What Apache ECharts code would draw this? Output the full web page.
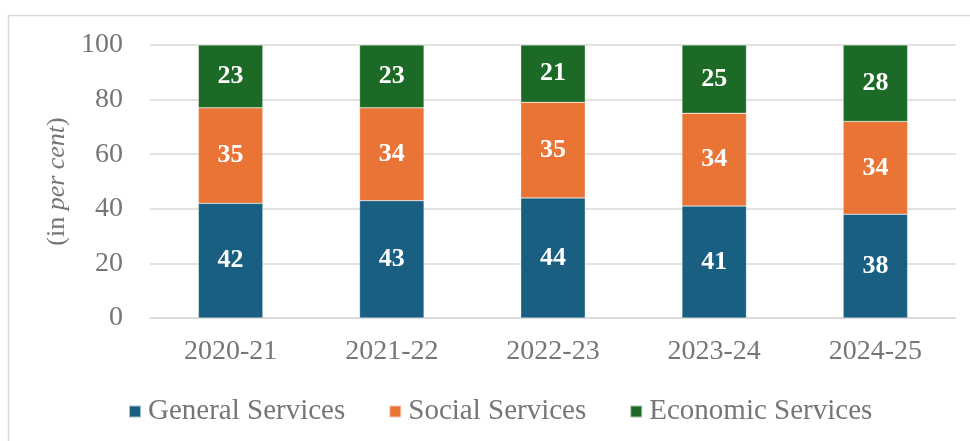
<!DOCTYPE html>
<html>
<head>
<meta charset="utf-8">
<script src="https://cdn.jsdelivr.net/npm/echarts@6/dist/echarts.min.js"></script>
<style>
  html, body { margin: 0; padding: 0; background: #fff; }
  #chart { width: 970px; height: 441px; }
</style>
</head>
<body>
<div id="chart"></div>
<script>
// Share of expenditure by service group, per year (in per cent)
const years = ['2020-21', '2021-22', '2022-23', '2023-24', '2024-25'];
const generalServices = [42, 43, 44, 41, 38];
const socialServices = [35, 34, 35, 34, 34];
const economicServices = [23, 23, 21, 25, 28];
const yTicks = [0, 20, 40, 60, 80, 100];

const FONT = '"Liberation Serif", "Times New Roman", serif';
const GREY = '#767676';

const chart = echarts.init(document.getElementById('chart'), null, { renderer: 'canvas' });

function barSeries(name, values, color) {
  return {
    name: name,
    type: 'bar',
    stack: 'total',
    data: values,
    barWidth: '40%',
    itemStyle: { color: color, borderColor: 'rgba(255,255,255,0.6)', borderWidth: 0.5 },
    label: {
      show: true,
      position: 'inside',
      color: '#fff',
      fontFamily: FONT,
      fontWeight: 'bold',
      fontSize: 26
    }
  };
}

chart.setOption({
  animation: false,
  backgroundColor: '#fff',
  graphic: [{
    type: 'rect',
    shape: { x: 8.5, y: 15.5, width: 980, height: 460 },
    style: { fill: 'none', stroke: '#d9d9d9', lineWidth: 1.5 },
    silent: true,
    z: -10
  }],
  grid: { left: 150, right: 14, top: 45, bottom: 123 },
  legend: {
    left: 123,
    top: 392,
    itemWidth: 12,
    itemHeight: 12,
    itemGap: 43,
    icon: 'rect',
    textStyle: { fontFamily: FONT, fontSize: 29, color: GREY, padding: [0, 0, 0, 2] },
    data: ['General Services', 'Social Services', 'Economic Services']
  },
  xAxis: {
    type: 'category',
    data: years,
    axisTick: { show: false },
    axisLine: { show: true, lineStyle: { color: '#d9d9d9', width: 1.5 } },
    axisLabel: { fontFamily: FONT, fontSize: 28, color: GREY, margin: 20 }
  },
  yAxis: {
    type: 'value',
    min: yTicks[0],
    max: yTicks[yTicks.length - 1],
    interval: yTicks[1] - yTicks[0],
    axisLine: { show: false },
    axisTick: { show: false },
    splitLine: { lineStyle: { color: '#d9d9d9', width: 1.5 } },
    axisLabel: { fontFamily: FONT, fontSize: 28, color: GREY, margin: 27 },
    name: '{n|(in }{i|per cent}{n|)}',
    nameLocation: 'middle',
    nameGap: 79,
    nameRotate: 90,
    nameTextStyle: {
      rich: {
        n: { fontFamily: FONT, fontSize: 26, color: GREY },
        i: { fontFamily: FONT, fontSize: 26, color: GREY, fontStyle: 'italic' }
      }
    }
  },
  series: [
    barSeries('General Services', generalServices, '#185f82'),
    barSeries('Social Services', socialServices, '#e97436'),
    barSeries('Economic Services', economicServices, '#1c6a25')
  ]
});
</script>
</body>
</html>
